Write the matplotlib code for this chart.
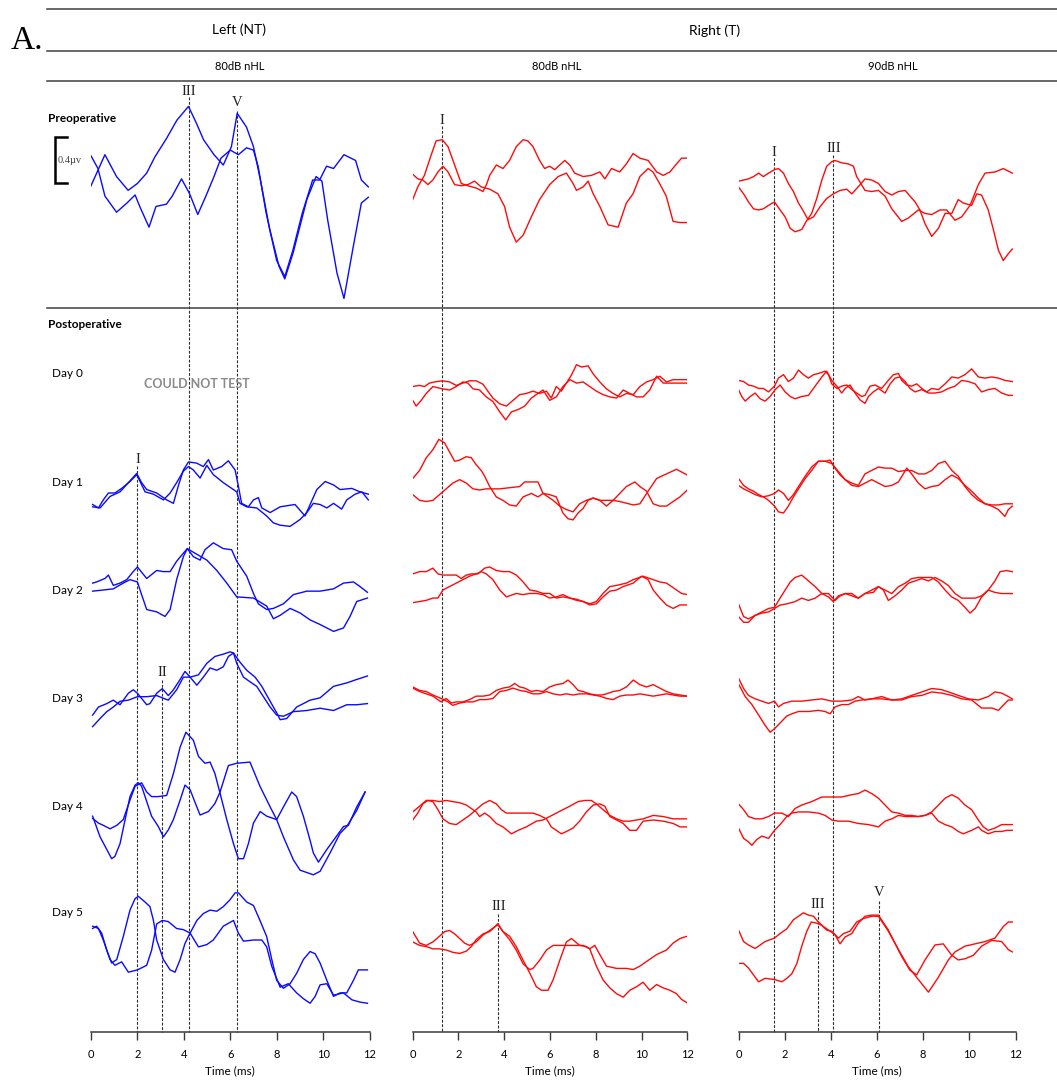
import matplotlib
matplotlib.use("Agg")
import matplotlib.pyplot as plt
from matplotlib.lines import Line2D

# ---------------- data (time in ms, amplitude in microvolts re. row baseline) -------------
# Left ear (NT), 80 dB nHL, blue
L_PRE_1_T = [0.0, 0.6, 1.1, 1.6, 2.0, 2.4, 2.75, 3.25, 3.7, 4.2, 4.55, 4.85, 5.3, 5.7, 6.05, 6.3, 6.7, 7.0, 7.3, 7.7, 8.1, 8.35, 8.7, 9.3, 9.7, 9.95, 10.2, 10.6, 10.9, 11.3, 11.65, 11.95]
L_PRE_1_V = [-0.05, 0.22, 0.03, -0.09, -0.03, 0.06, 0.20, 0.36, 0.52, 0.64, 0.49, 0.35, 0.22, 0.13, 0.29, 0.58, 0.46, 0.29, 0.00, -0.43, -0.75, -0.86, -0.64, -0.17, 0.03, -0.01, -0.35, -0.81, -1.03, -0.58, -0.20, -0.15]
L_PRE_2_T = [0.0, 0.3, 0.6, 1.1, 1.55, 1.9, 2.1, 2.5, 2.8, 3.25, 3.5, 3.9, 4.25, 4.6, 4.95, 5.3, 5.6, 6.0, 6.35, 6.7, 7.0, 7.2, 7.55, 8.0, 8.35, 8.7, 9.1, 9.55, 9.85, 10.15, 10.45, 10.9, 11.4, 11.65, 11.95]
L_PRE_2_V = [0.21, 0.10, -0.14, -0.28, -0.20, -0.13, -0.23, -0.41, -0.23, -0.21, -0.14, 0.01, -0.12, -0.30, -0.14, 0.03, 0.19, 0.26, 0.22, 0.28, 0.26, 0.12, -0.29, -0.70, -0.84, -0.61, -0.29, 0.00, 0.00, 0.12, 0.10, 0.22, 0.17, 0.00, -0.06]

L_D1_1_T = [0.07, 0.39, 0.82, 1.25, 1.61, 1.97, 2.18, 2.4, 2.83, 3.26, 3.55, 3.76, 3.98, 4.2, 4.55, 4.84, 5.06, 5.27, 5.63, 5.92, 6.21, 6.35, 6.49, 6.78, 7.0, 7.21, 7.36, 7.72, 8.15, 8.79, 9.22, 9.73, 10.09, 10.45, 10.73, 11.24, 11.59, 11.95]
L_D1_1_V = [-0.12, -0.13, -0.03, 0.01, 0.09, 0.17, 0.09, 0.03, 0.00, -0.06, -0.09, 0.06, 0.20, 0.27, 0.26, 0.23, 0.29, 0.20, 0.23, 0.28, 0.20, 0.06, -0.09, -0.12, -0.06, -0.04, -0.13, -0.17, -0.12, -0.10, -0.20, 0.03, 0.10, 0.07, 0.03, 0.04, 0.01, -0.01]
L_D1_2_T = [0.07, 0.32, 0.53, 0.75, 1.03, 1.32, 1.68, 1.97, 2.33, 2.69, 3.12, 3.41, 3.69, 3.98, 4.2, 4.41, 4.7, 4.99, 5.27, 5.7, 6.28, 6.42, 6.71, 7.14, 7.57, 7.86, 8.15, 8.58, 9.01, 9.3, 9.58, 9.87, 10.16, 10.45, 10.8, 11.02, 11.38, 11.67, 11.95]
L_D1_2_V = [-0.10, -0.13, -0.06, 0.00, 0.00, 0.04, 0.10, 0.16, 0.01, -0.01, -0.06, 0.00, 0.09, 0.19, 0.23, 0.20, 0.13, 0.24, 0.16, 0.09, 0.01, -0.09, -0.12, -0.13, -0.20, -0.26, -0.28, -0.29, -0.23, -0.17, -0.09, -0.10, -0.13, -0.09, -0.14, -0.06, -0.01, 0.01, -0.06]

L_D2_1_T = [0.07, 0.53, 0.96, 1.39, 1.68, 2.0, 2.18, 2.4, 2.83, 3.19, 3.41, 3.69, 3.98, 4.15, 4.48, 4.99, 5.42, 5.85, 6.28, 7.0, 7.57, 7.86, 8.15, 8.58, 9.01, 9.44, 9.87, 10.45, 10.88, 11.16, 11.45, 11.91]
L_D2_1_V = [-0.01, 0.00, 0.01, 0.06, 0.09, 0.07, -0.04, -0.17, -0.19, -0.23, -0.17, 0.09, 0.29, 0.36, 0.32, 0.26, 0.17, 0.06, -0.06, -0.07, -0.14, -0.25, -0.22, -0.16, -0.20, -0.26, -0.30, -0.36, -0.33, -0.23, -0.10, -0.07]
L_D2_2_T = [0.07, 0.24, 0.6, 0.75, 0.96, 1.25, 1.54, 1.82, 2.0, 2.4, 2.83, 3.12, 3.41, 3.69, 3.98, 4.15, 4.41, 4.7, 4.91, 5.27, 5.7, 6.06, 6.28, 6.71, 7.0, 7.21, 7.57, 7.86, 8.29, 8.72, 9.3, 9.87, 10.45, 10.88, 11.31, 11.59, 11.91]
L_D2_2_V = [0.06, 0.07, 0.10, 0.13, 0.04, 0.06, 0.09, 0.16, 0.20, 0.10, 0.17, 0.16, 0.16, 0.25, 0.32, 0.36, 0.29, 0.26, 0.35, 0.41, 0.36, 0.35, 0.25, 0.12, -0.03, -0.12, -0.17, -0.16, -0.12, -0.04, -0.01, -0.01, 0.01, 0.06, 0.07, 0.03, -0.02]

L_D3_1_T = [0.07, 0.32, 0.68, 0.96, 1.25, 1.61, 1.82, 2.0, 2.4, 2.54, 2.83, 3.07, 3.33, 3.55, 3.84, 4.05, 4.27, 4.56, 4.84, 5.13, 5.42, 5.7, 5.92, 6.14, 6.28, 6.57, 6.85, 7.14, 7.43, 7.72, 8.0, 8.29, 8.72, 9.3, 9.87, 10.45, 11.02, 11.45, 11.91]
L_D3_1_V = [-0.14, -0.07, -0.04, -0.01, -0.05, 0.05, 0.08, 0.05, -0.05, -0.04, 0.05, 0.09, 0.03, 0.08, 0.17, 0.24, 0.19, 0.12, 0.19, 0.27, 0.25, 0.28, 0.37, 0.40, 0.31, 0.19, 0.15, 0.11, 0.02, -0.07, -0.14, -0.15, -0.11, -0.10, -0.08, -0.10, -0.05, -0.05, -0.04]
L_D3_2_T = [0.07, 0.39, 0.68, 0.96, 1.25, 1.61, 2.0, 2.4, 2.83, 3.07, 3.33, 3.69, 3.98, 4.27, 4.63, 4.99, 5.34, 5.7, 5.99, 6.14, 6.42, 6.71, 7.07, 7.36, 7.72, 8.0, 8.15, 8.43, 8.86, 9.44, 9.87, 10.45, 11.02, 11.45, 11.91]
L_D3_2_V = [-0.24, -0.17, -0.11, -0.07, -0.02, -0.01, 0.02, 0.02, 0.03, 0.01, -0.01, 0.08, 0.19, 0.19, 0.21, 0.31, 0.37, 0.39, 0.41, 0.40, 0.32, 0.25, 0.19, 0.11, -0.02, -0.12, -0.18, -0.17, -0.07, -0.01, 0.01, 0.11, 0.14, 0.17, 0.20]

L_D4_1_T = [0.07, 0.32, 0.53, 0.82, 1.11, 1.39, 1.68, 1.9, 2.18, 2.4, 2.61, 2.9, 3.26, 3.55, 3.84, 4.09, 4.41, 4.63, 4.91, 5.13, 5.34, 5.56, 5.85, 6.14, 6.35, 6.57, 6.78, 7.0, 7.29, 7.57, 8.0, 8.29, 8.65, 8.86, 9.15, 9.44, 9.58, 9.8, 10.16, 10.45, 10.88, 11.09, 11.45, 11.81]
L_D4_1_V = [-0.03, -0.07, -0.09, -0.12, -0.09, -0.04, 0.13, 0.25, 0.28, 0.20, 0.16, 0.16, 0.17, 0.36, 0.59, 0.72, 0.65, 0.51, 0.45, 0.46, 0.36, 0.19, -0.04, -0.25, -0.38, -0.38, -0.25, -0.07, 0.03, -0.01, -0.04, 0.07, 0.20, 0.16, -0.01, -0.22, -0.33, -0.41, -0.30, -0.22, -0.10, -0.09, 0.07, 0.20]
L_D4_2_T = [0.07, 0.39, 0.68, 0.89, 1.03, 1.25, 1.47, 1.68, 1.9, 2.04, 2.18, 2.33, 2.61, 2.9, 3.12, 3.33, 3.55, 3.84, 4.05, 4.27, 4.56, 4.7, 5.06, 5.34, 5.56, 5.92, 6.28, 6.85, 7.28, 7.72, 8.0, 8.29, 8.72, 9.01, 9.58, 9.87, 10.3, 10.73, 11.02, 11.45, 11.81]
L_D4_2_V = [-0.01, -0.19, -0.30, -0.38, -0.36, -0.25, -0.04, 0.16, 0.26, 0.28, 0.25, 0.16, -0.01, -0.10, -0.19, -0.13, -0.04, 0.13, 0.26, 0.22, 0.07, 0.00, 0.03, 0.10, 0.20, 0.43, 0.45, 0.46, 0.25, 0.07, -0.04, -0.19, -0.39, -0.48, -0.52, -0.49, -0.33, -0.16, -0.10, 0.04, 0.20]

L_D5_1_T = [0.07, 0.24, 0.46, 0.68, 0.89, 1.11, 1.39, 1.68, 1.9, 2.04, 2.33, 2.54, 2.69, 2.83, 3.12, 3.41, 3.62, 3.84, 4.05, 4.27, 4.56, 4.84, 5.13, 5.42, 5.7, 5.99, 6.21, 6.35, 6.71, 7.0, 7.28, 7.57, 7.79, 8.0, 8.29, 8.58, 8.86, 9.15, 9.44, 9.66, 9.87, 10.16, 10.45, 10.73, 11.02, 11.31, 11.52, 11.91]
L_D5_1_V = [0.10, 0.12, 0.06, -0.09, -0.20, -0.17, 0.03, 0.26, 0.36, 0.38, 0.33, 0.29, 0.17, 0.00, -0.17, -0.26, -0.28, -0.17, -0.03, 0.06, 0.17, 0.23, 0.26, 0.25, 0.29, 0.35, 0.41, 0.41, 0.33, 0.30, 0.17, 0.03, -0.17, -0.35, -0.42, -0.38, -0.29, -0.17, -0.10, -0.12, -0.20, -0.35, -0.49, -0.46, -0.46, -0.35, -0.26, -0.26]
L_D5_2_T = [0.07, 0.32, 0.53, 0.82, 1.03, 1.32, 1.61, 2.0, 2.4, 2.61, 2.83, 3.07, 3.33, 3.69, 3.98, 4.27, 4.63, 4.99, 5.27, 5.7, 6.14, 6.35, 6.57, 7.0, 7.36, 7.57, 7.79, 8.15, 8.5, 8.86, 9.15, 9.44, 9.66, 9.87, 10.16, 10.45, 10.88, 11.24, 11.59, 11.91]
L_D5_2_V = [0.12, 0.10, 0.00, -0.17, -0.22, -0.19, -0.28, -0.26, -0.22, -0.09, 0.14, 0.17, 0.16, 0.10, 0.09, 0.06, -0.06, -0.04, 0.00, 0.12, 0.17, 0.06, -0.01, 0.00, 0.00, -0.06, -0.23, -0.41, -0.38, -0.46, -0.51, -0.55, -0.49, -0.39, -0.38, -0.48, -0.46, -0.52, -0.54, -0.55]

# Right ear (T), 80 dB nHL, red
M_PRE_1_T = [0.01, 0.23, 0.52, 0.82, 1.03, 1.3, 1.55, 1.84, 2.13, 2.42, 2.78, 3.08, 3.25, 3.37, 3.66, 3.95, 4.24, 4.53, 4.83, 5.04, 5.26, 5.55, 5.77, 5.99, 6.21, 6.43, 6.65, 6.87, 7.08, 7.45, 7.81, 8.18, 8.4, 8.69, 9.05, 9.34, 9.63, 9.93, 10.29, 10.66, 10.95, 11.24, 11.53, 11.75, 12.0]
M_PRE_1_V = [-0.17, -0.06, 0.04, 0.22, 0.34, 0.35, 0.29, 0.13, -0.03, -0.05, -0.07, -0.10, -0.03, 0.04, 0.13, 0.10, 0.17, 0.29, 0.35, 0.34, 0.29, 0.17, 0.10, 0.12, 0.09, 0.13, 0.17, 0.13, 0.06, 0.03, 0.04, 0.07, 0.01, 0.10, 0.07, 0.14, 0.23, 0.19, 0.17, 0.07, 0.04, 0.07, 0.14, 0.19, 0.19]
M_PRE_2_T = [0.01, 0.23, 0.45, 0.67, 0.89, 1.11, 1.33, 1.55, 1.84, 2.13, 2.42, 2.71, 3.0, 3.37, 3.73, 4.02, 4.24, 4.53, 4.83, 5.19, 5.55, 5.99, 6.36, 6.72, 7.01, 7.16, 7.45, 7.67, 7.89, 8.18, 8.54, 8.98, 9.34, 9.63, 9.93, 10.29, 10.5, 10.79, 11.08, 11.38, 11.68, 12.0]
M_PRE_2_V = [0.05, 0.01, 0.00, -0.04, 0.00, 0.07, 0.12, 0.07, -0.04, -0.05, -0.04, -0.01, -0.06, -0.08, -0.12, -0.23, -0.41, -0.54, -0.48, -0.32, -0.17, -0.04, 0.03, 0.06, -0.03, -0.09, -0.06, -0.01, -0.12, -0.23, -0.39, -0.41, -0.20, -0.12, 0.03, 0.10, 0.07, -0.03, -0.14, -0.36, -0.37, -0.37]

M_D0_1_T = [0.01, 0.31, 0.52, 0.74, 0.96, 1.3, 1.62, 1.91, 2.2, 2.49, 2.78, 3.08, 3.29, 3.51, 3.81, 4.1, 4.39, 4.68, 4.97, 5.26, 5.55, 5.85, 6.06, 6.28, 6.5, 6.72, 6.94, 7.16, 7.38, 7.67, 7.89, 8.18, 8.47, 8.76, 9.05, 9.34, 9.64, 9.93, 10.22, 10.51, 10.8, 11.09, 11.38, 11.68, 12.0]
M_D0_1_V = [0.03, 0.04, 0.03, 0.06, 0.07, 0.08, 0.07, 0.04, 0.06, 0.08, 0.08, 0.05, -0.01, -0.07, -0.12, -0.14, -0.09, -0.04, -0.03, -0.01, -0.03, -0.01, -0.07, 0.03, -0.01, 0.06, 0.13, 0.22, 0.20, 0.21, 0.14, 0.07, 0.01, -0.03, -0.06, -0.03, -0.04, 0.03, 0.07, 0.09, 0.12, 0.07, 0.09, 0.09, 0.09]
M_D0_2_T = [0.01, 0.16, 0.38, 0.6, 0.89, 1.3, 1.62, 1.91, 2.2, 2.42, 2.64, 2.93, 3.22, 3.51, 3.81, 4.07, 4.32, 4.61, 4.9, 5.19, 5.48, 5.7, 5.99, 6.28, 6.57, 6.87, 7.16, 7.45, 7.74, 8.03, 8.32, 8.62, 8.91, 9.2, 9.49, 9.78, 10.07, 10.36, 10.66, 10.95, 11.24, 11.53, 12.0]
M_D0_2_V = [-0.09, -0.14, -0.09, -0.03, 0.03, 0.01, 0.00, 0.03, 0.07, 0.06, 0.01, 0.00, -0.06, -0.10, -0.19, -0.26, -0.19, -0.17, -0.14, -0.07, -0.03, 0.00, -0.09, -0.06, 0.03, 0.09, 0.06, 0.07, 0.03, -0.01, -0.04, -0.06, -0.07, 0.00, -0.03, -0.06, -0.06, 0.00, 0.12, 0.06, 0.06, 0.06, 0.06]

M_D1_1_T = [0.01, 0.31, 0.6, 0.89, 1.15, 1.4, 1.62, 1.84, 2.06, 2.35, 2.57, 2.78, 3.0, 3.15, 3.37, 3.66, 3.95, 4.24, 4.53, 4.83, 5.19, 5.48, 5.7, 6.14, 6.43, 6.72, 7.01, 7.3, 7.59, 7.89, 8.18, 8.47, 8.76, 9.05, 9.34, 9.71, 9.93, 10.22, 10.51, 10.8, 11.09, 11.38, 11.68, 12.0]
M_D1_1_V = [0.10, 0.17, 0.28, 0.35, 0.44, 0.41, 0.33, 0.25, 0.26, 0.29, 0.28, 0.22, 0.17, 0.12, 0.03, -0.06, -0.09, -0.13, -0.14, -0.06, -0.03, -0.06, -0.03, -0.09, -0.14, -0.17, -0.19, -0.12, -0.09, -0.07, -0.09, -0.14, -0.09, -0.03, 0.03, 0.07, 0.03, -0.01, -0.12, -0.14, -0.14, -0.10, -0.06, 0.00]
M_D1_2_T = [0.01, 0.31, 0.6, 0.89, 1.18, 1.47, 1.76, 2.06, 2.35, 2.64, 2.93, 3.22, 3.51, 3.81, 4.24, 4.68, 4.9, 5.26, 5.48, 5.7, 5.99, 6.28, 6.57, 6.79, 7.01, 7.23, 7.45, 7.67, 7.89, 8.18, 8.47, 8.76, 9.05, 9.64, 9.93, 10.29, 10.66, 11.09, 11.53, 12.0]
M_D1_2_V = [-0.04, -0.09, -0.10, -0.09, -0.04, 0.01, 0.06, 0.09, 0.06, 0.01, 0.00, 0.01, 0.01, 0.01, 0.02, 0.03, 0.07, 0.07, 0.07, -0.03, -0.04, -0.06, -0.20, -0.25, -0.26, -0.20, -0.16, -0.09, -0.07, -0.09, -0.09, -0.09, -0.10, -0.13, -0.12, -0.01, 0.10, 0.14, 0.18, 0.13]

M_D2_1_T = [0.01, 0.31, 0.6, 0.89, 1.11, 1.33, 1.62, 1.91, 2.13, 2.35, 2.57, 2.86, 3.15, 3.37, 3.66, 3.95, 4.24, 4.53, 4.83, 5.12, 5.41, 5.7, 5.99, 6.28, 6.57, 6.87, 7.16, 7.45, 7.74, 8.03, 8.32, 8.62, 8.91, 9.34, 9.64, 10.07, 10.51, 10.8, 11.09, 11.53, 11.75, 12.0]
M_D2_1_V = [0.14, 0.16, 0.16, 0.19, 0.14, 0.13, 0.13, 0.13, 0.10, 0.13, 0.14, 0.14, 0.19, 0.20, 0.17, 0.16, 0.16, 0.13, 0.07, 0.00, -0.01, -0.03, -0.03, -0.07, -0.06, -0.07, -0.08, -0.10, -0.12, -0.10, -0.03, 0.03, 0.04, 0.06, 0.09, 0.12, 0.09, 0.07, 0.06, 0.00, -0.03, -0.04]
M_D2_2_T = [0.01, 0.31, 0.6, 0.89, 1.11, 1.33, 1.62, 1.91, 2.2, 2.49, 2.78, 3.0, 3.22, 3.51, 3.81, 4.1, 4.53, 4.83, 5.12, 5.41, 5.7, 5.99, 6.28, 6.57, 6.87, 7.16, 7.45, 7.74, 8.03, 8.32, 8.62, 8.91, 9.2, 9.64, 10.0, 10.29, 10.51, 10.8, 11.09, 11.38, 11.68, 12.0]
M_D2_2_V = [-0.11, -0.10, -0.09, -0.07, -0.07, 0.00, 0.03, 0.06, 0.09, 0.12, 0.14, 0.16, 0.14, 0.09, 0.00, -0.06, -0.03, -0.04, -0.03, -0.03, -0.04, -0.07, -0.06, -0.04, -0.07, -0.09, -0.10, -0.13, -0.12, -0.06, -0.01, 0.00, 0.03, 0.06, 0.12, 0.09, 0.00, -0.07, -0.13, -0.16, -0.13, -0.13]

M_D3_1_T = [0.01, 0.31, 0.6, 0.89, 1.25, 1.47, 1.69, 1.91, 2.2, 2.49, 2.78, 3.08, 3.37, 3.66, 3.95, 4.24, 4.46, 4.68, 4.9, 5.19, 5.41, 5.7, 5.99, 6.28, 6.57, 6.79, 7.01, 7.23, 7.45, 7.74, 8.03, 8.25, 8.47, 8.76, 9.05, 9.34, 9.64, 9.93, 10.22, 10.51, 10.8, 11.09, 11.38, 11.68, 12.0]
M_D3_1_V = [0.06, 0.03, 0.01, -0.01, -0.06, -0.03, -0.07, -0.06, -0.06, -0.04, -0.01, -0.01, 0.00, 0.04, 0.06, 0.07, 0.10, 0.07, 0.06, 0.03, 0.04, 0.03, 0.07, 0.09, 0.10, 0.13, 0.09, 0.04, 0.03, 0.01, 0.00, 0.00, 0.01, 0.03, 0.04, 0.07, 0.13, 0.09, 0.07, 0.09, 0.06, 0.03, 0.01, 0.00, -0.01]
M_D3_2_T = [0.01, 0.31, 0.6, 0.89, 1.25, 1.55, 1.76, 2.06, 2.35, 2.64, 2.93, 3.22, 3.51, 3.81, 4.1, 4.39, 4.68, 4.97, 5.26, 5.55, 5.85, 6.14, 6.43, 6.72, 7.01, 7.3, 7.59, 7.89, 8.18, 8.47, 8.76, 9.05, 9.34, 9.64, 9.93, 10.22, 10.51, 10.8, 11.09, 11.38, 11.68, 12.0]
M_D3_2_V = [0.07, 0.04, 0.03, 0.00, -0.03, -0.06, -0.09, -0.07, -0.06, -0.06, -0.04, -0.04, -0.03, 0.03, 0.04, 0.06, 0.04, 0.03, 0.01, 0.01, 0.03, 0.01, 0.00, 0.01, 0.00, 0.01, 0.01, 0.00, -0.01, -0.03, -0.04, -0.01, 0.00, 0.00, 0.01, 0.00, -0.01, 0.00, 0.01, 0.00, -0.01, -0.01]

M_D4_1_T = [0.01, 0.23, 0.45, 0.67, 0.89, 1.11, 1.33, 1.62, 1.91, 2.2, 2.49, 2.78, 3.08, 3.37, 3.66, 3.88, 4.1, 4.32, 4.61, 4.97, 5.26, 5.55, 5.85, 6.06, 6.28, 6.5, 6.72, 7.01, 7.3, 7.59, 7.89, 8.18, 8.4, 8.62, 8.91, 9.2, 9.49, 9.78, 10.07, 10.51, 10.95, 11.38, 11.68, 12.0]
M_D4_1_V = [0.00, 0.06, 0.14, 0.17, 0.16, 0.09, 0.01, -0.03, -0.04, 0.00, 0.04, 0.09, 0.14, 0.17, 0.14, 0.09, 0.06, 0.06, 0.06, 0.06, 0.06, 0.04, 0.01, -0.06, -0.09, -0.12, -0.10, -0.07, -0.01, 0.07, 0.13, 0.14, 0.12, 0.03, 0.00, -0.03, -0.09, -0.09, -0.01, 0.00, -0.01, -0.03, -0.06, -0.06]
M_D4_2_T = [0.01, 0.31, 0.6, 0.89, 1.18, 1.47, 1.76, 2.06, 2.35, 2.57, 2.78, 2.93, 3.15, 3.37, 3.66, 3.95, 4.32, 4.61, 4.97, 5.41, 5.7, 5.99, 6.28, 6.57, 6.87, 7.23, 7.52, 7.81, 8.03, 8.32, 8.62, 8.91, 9.2, 9.49, 9.78, 10.07, 10.51, 10.95, 11.38, 11.68, 12.0]
M_D4_2_V = [0.07, 0.12, 0.17, 0.17, 0.16, 0.17, 0.16, 0.15, 0.13, 0.10, 0.07, 0.03, 0.06, 0.03, -0.03, -0.06, -0.12, -0.09, -0.06, -0.01, 0.00, 0.03, 0.06, 0.09, 0.12, 0.16, 0.17, 0.17, 0.14, 0.09, 0.04, 0.01, -0.01, -0.01, 0.00, 0.01, 0.04, 0.03, 0.01, 0.01, 0.01]

M_D5_1_T = [0.01, 0.31, 0.6, 0.89, 1.18, 1.4, 1.62, 1.84, 2.06, 2.27, 2.49, 2.78, 3.08, 3.37, 3.73, 3.95, 4.24, 4.53, 4.83, 5.12, 5.26, 5.55, 5.85, 6.14, 6.57, 7.01, 7.45, 7.74, 7.96, 8.18, 8.47, 8.91, 9.34, 9.64, 9.93, 10.22, 10.66, 11.09, 11.38, 11.68, 12.0]
M_D5_1_V = [0.16, 0.06, 0.04, 0.07, 0.12, 0.16, 0.17, 0.14, 0.10, 0.06, 0.04, 0.07, 0.13, 0.17, 0.22, 0.16, 0.09, 0.00, -0.12, -0.17, -0.16, -0.09, 0.00, 0.04, 0.04, 0.04, 0.04, 0.01, 0.04, -0.04, -0.14, -0.16, -0.16, -0.17, -0.14, -0.10, -0.04, 0.00, 0.06, 0.10, 0.12]
M_D5_2_T = [0.01, 0.31, 0.6, 0.89, 1.18, 1.47, 1.76, 2.06, 2.35, 2.57, 2.78, 3.08, 3.37, 3.59, 3.73, 3.95, 4.24, 4.53, 4.83, 5.12, 5.41, 5.63, 5.92, 6.14, 6.43, 6.72, 6.94, 7.3, 7.59, 7.74, 8.03, 8.32, 8.62, 8.91, 9.2, 9.49, 9.78, 10.07, 10.36, 10.66, 10.95, 11.24, 11.53, 11.75, 12.0]
M_D5_2_V = [0.07, 0.04, 0.03, 0.01, 0.01, 0.00, -0.02, -0.03, -0.01, 0.03, 0.09, 0.14, 0.16, 0.20, 0.23, 0.16, 0.12, 0.03, -0.09, -0.20, -0.32, -0.35, -0.35, -0.26, -0.09, 0.07, 0.10, 0.04, 0.03, 0.01, -0.14, -0.26, -0.33, -0.38, -0.41, -0.35, -0.32, -0.28, -0.35, -0.30, -0.33, -0.35, -0.38, -0.43, -0.46]

# Right ear (T), 90 dB nHL, red
R_PRE_1_T = [0.0, 0.22, 0.43, 0.65, 0.87, 1.08, 1.3, 1.56, 1.73, 1.95, 2.16, 2.38, 2.6, 2.81, 3.0, 3.17, 3.39, 3.61, 3.82, 4.04, 4.18, 4.47, 4.76, 4.98, 5.12, 5.48, 5.77, 6.06, 6.35, 6.64, 7.07, 7.36, 7.79, 8.08, 8.37, 8.73, 9.02, 9.38, 9.67, 10.03, 10.39, 10.68, 11.11, 11.47, 11.86]
R_PRE_1_V = [0.12, 0.13, 0.14, 0.16, 0.19, 0.16, 0.19, 0.22, 0.23, 0.19, 0.10, 0.03, -0.07, -0.14, -0.21, -0.16, -0.03, 0.13, 0.25, 0.29, 0.30, 0.28, 0.27, 0.25, 0.16, 0.04, 0.03, 0.04, -0.01, -0.12, -0.23, -0.20, -0.13, -0.16, -0.17, -0.13, -0.13, -0.22, -0.19, -0.09, 0.09, 0.19, 0.20, 0.23, 0.19]
R_PRE_2_T = [0.0, 0.22, 0.43, 0.65, 0.87, 1.08, 1.3, 1.56, 1.8, 2.02, 2.24, 2.45, 2.74, 2.96, 3.25, 3.54, 3.82, 4.11, 4.4, 4.69, 4.91, 5.27, 5.48, 5.77, 6.06, 6.35, 6.64, 6.93, 7.22, 7.43, 7.65, 7.86, 8.08, 8.37, 8.66, 8.95, 9.24, 9.52, 9.74, 10.1, 10.32, 10.53, 10.82, 11.04, 11.26, 11.47, 11.69, 11.86]
R_PRE_2_V = [0.07, 0.01, -0.06, -0.12, -0.13, -0.12, -0.09, -0.06, -0.13, -0.19, -0.29, -0.32, -0.30, -0.22, -0.19, -0.10, -0.03, 0.01, 0.04, 0.05, 0.01, 0.09, 0.14, 0.13, 0.10, 0.03, 0.00, 0.03, 0.04, -0.01, -0.06, -0.13, -0.25, -0.36, -0.29, -0.16, -0.16, -0.04, -0.07, -0.09, 0.01, 0.00, -0.13, -0.30, -0.48, -0.57, -0.51, -0.47]

R_D0_1_T = [0.0, 0.22, 0.43, 0.65, 0.87, 1.08, 1.3, 1.56, 1.73, 1.95, 2.16, 2.38, 2.6, 2.81, 3.03, 3.25, 3.46, 3.75, 3.9, 4.04, 4.26, 4.47, 4.69, 4.91, 5.12, 5.34, 5.48, 5.7, 5.92, 6.2, 6.49, 6.71, 6.93, 7.07, 7.29, 7.5, 7.72, 7.94, 8.15, 8.37, 8.66, 8.95, 9.24, 9.52, 9.81, 10.1, 10.39, 10.68, 10.97, 11.26, 11.54, 11.86]
R_D0_1_V = [0.04, 0.03, 0.00, -0.01, -0.03, -0.03, -0.06, -0.01, 0.06, 0.09, 0.03, 0.06, 0.13, 0.09, 0.06, 0.09, 0.10, 0.12, 0.09, 0.01, -0.03, -0.01, 0.00, -0.04, -0.07, -0.10, -0.09, -0.01, 0.00, -0.03, 0.04, 0.09, 0.10, 0.04, 0.00, -0.01, 0.01, -0.03, -0.06, -0.03, -0.04, 0.01, 0.07, 0.06, 0.09, 0.14, 0.07, 0.06, 0.07, 0.06, 0.04, 0.03]
R_D0_2_T = [0.0, 0.14, 0.29, 0.51, 0.72, 0.94, 1.15, 1.37, 1.59, 1.8, 2.02, 2.24, 2.45, 2.74, 3.03, 3.32, 3.61, 3.82, 4.04, 4.26, 4.47, 4.62, 4.83, 5.05, 5.27, 5.48, 5.63, 5.84, 6.06, 6.35, 6.57, 6.78, 7.0, 7.22, 7.43, 7.65, 7.94, 8.23, 8.51, 8.8, 9.09, 9.38, 9.67, 9.96, 10.25, 10.53, 10.82, 11.11, 11.4, 11.69, 11.86]
R_D0_2_V = [-0.04, -0.10, -0.14, -0.10, -0.07, -0.12, -0.14, -0.10, -0.04, 0.00, -0.06, -0.10, -0.12, -0.10, -0.09, -0.01, 0.07, 0.12, 0.04, -0.01, -0.07, -0.03, 0.00, -0.07, -0.13, -0.16, -0.10, -0.06, -0.03, -0.07, 0.01, 0.06, 0.07, 0.03, -0.03, -0.06, -0.04, -0.07, -0.07, -0.06, -0.03, -0.01, 0.04, 0.03, 0.01, -0.06, -0.04, -0.03, -0.07, -0.09, -0.09]

R_D1_1_T = [0.0, 0.22, 0.43, 0.65, 0.87, 1.08, 1.3, 1.56, 1.73, 1.95, 2.16, 2.38, 2.6, 2.89, 3.17, 3.46, 3.75, 3.97, 4.18, 4.4, 4.62, 4.91, 5.19, 5.48, 5.77, 6.06, 6.35, 6.64, 6.93, 7.22, 7.5, 7.79, 8.08, 8.37, 8.66, 8.95, 9.24, 9.52, 9.81, 10.1, 10.39, 10.68, 10.97, 11.26, 11.54, 11.69, 11.86]
R_D1_1_V = [0.10, 0.04, 0.01, -0.01, -0.04, -0.06, -0.09, -0.14, -0.19, -0.20, -0.14, -0.06, 0.01, 0.10, 0.17, 0.25, 0.25, 0.26, 0.19, 0.13, 0.09, 0.06, 0.04, 0.14, 0.17, 0.20, 0.19, 0.19, 0.16, 0.17, 0.17, 0.14, 0.14, 0.17, 0.23, 0.25, 0.17, 0.12, 0.03, -0.04, -0.09, -0.12, -0.14, -0.17, -0.23, -0.17, -0.14]
R_D1_2_T = [0.0, 0.22, 0.43, 0.72, 1.01, 1.3, 1.56, 1.73, 1.95, 2.16, 2.38, 2.6, 2.89, 3.17, 3.46, 3.75, 4.04, 4.33, 4.62, 4.91, 5.19, 5.48, 5.77, 6.06, 6.35, 6.64, 6.93, 7.29, 7.5, 7.79, 8.08, 8.37, 8.66, 8.95, 9.24, 9.52, 9.81, 10.1, 10.39, 10.68, 10.97, 11.26, 11.54, 11.86]
R_D1_2_V = [0.04, 0.01, -0.01, -0.04, -0.06, -0.05, -0.03, 0.00, -0.03, -0.09, -0.04, 0.03, 0.12, 0.20, 0.25, 0.25, 0.23, 0.16, 0.09, 0.04, 0.03, 0.06, 0.09, 0.06, 0.03, 0.04, 0.07, 0.19, 0.14, 0.06, 0.01, 0.03, 0.04, 0.09, 0.13, 0.10, 0.04, -0.01, -0.07, -0.12, -0.13, -0.13, -0.12, -0.12]

R_D2_1_T = [0.0, 0.22, 0.43, 0.72, 1.01, 1.3, 1.56, 1.8, 2.02, 2.24, 2.45, 2.74, 3.03, 3.32, 3.61, 3.9, 4.11, 4.33, 4.62, 4.91, 5.19, 5.48, 5.77, 6.06, 6.35, 6.64, 6.93, 7.22, 7.5, 7.79, 8.08, 8.37, 8.66, 8.95, 9.24, 9.52, 9.81, 10.03, 10.25, 10.53, 10.82, 11.11, 11.33, 11.62, 11.86]
R_D2_1_V = [-0.06, -0.17, -0.19, -0.16, -0.13, -0.10, -0.09, -0.01, 0.06, 0.13, 0.17, 0.19, 0.14, 0.09, 0.03, 0.00, -0.04, 0.01, 0.03, 0.03, -0.01, 0.03, 0.06, 0.09, 0.06, 0.03, 0.09, 0.12, 0.16, 0.17, 0.17, 0.17, 0.13, 0.06, 0.00, -0.03, -0.09, -0.14, -0.10, 0.00, 0.06, 0.14, 0.22, 0.23, 0.22]
R_D2_2_T = [0.0, 0.22, 0.43, 0.72, 1.01, 1.3, 1.56, 1.8, 2.09, 2.45, 2.74, 3.03, 3.32, 3.61, 3.9, 4.18, 4.4, 4.62, 4.91, 5.19, 5.48, 5.84, 6.06, 6.28, 6.49, 6.78, 7.07, 7.36, 7.65, 7.94, 8.23, 8.51, 8.8, 9.09, 9.38, 9.67, 9.96, 10.25, 10.53, 10.82, 11.11, 11.4, 11.86]
R_D2_2_V = [-0.17, -0.22, -0.22, -0.16, -0.14, -0.13, -0.10, -0.07, -0.06, -0.04, -0.01, -0.03, -0.01, 0.03, 0.03, -0.03, 0.01, 0.03, 0.01, -0.01, 0.03, 0.04, 0.09, 0.06, -0.03, 0.01, 0.06, 0.12, 0.14, 0.16, 0.14, 0.17, 0.14, 0.10, 0.03, -0.01, -0.01, -0.01, 0.01, 0.06, 0.04, 0.03, 0.03]

R_D3_1_T = [0.0, 0.22, 0.43, 0.72, 1.01, 1.3, 1.56, 1.73, 1.95, 2.31, 2.74, 3.17, 3.61, 4.04, 4.47, 4.91, 5.19, 5.48, 5.77, 6.2, 6.64, 7.07, 7.5, 7.94, 8.37, 8.8, 9.24, 9.52, 9.96, 10.39, 10.82, 11.11, 11.4, 11.69, 11.86]
R_D3_1_V = [0.19, 0.10, 0.04, 0.01, -0.01, -0.03, -0.01, -0.06, -0.03, -0.01, -0.01, 0.00, 0.01, -0.01, -0.01, 0.00, 0.03, 0.00, 0.01, 0.03, 0.00, 0.01, 0.04, 0.07, 0.10, 0.09, 0.06, 0.04, 0.01, 0.00, 0.03, 0.07, 0.06, 0.03, 0.01]
R_D3_2_T = [0.0, 0.29, 0.58, 0.87, 1.15, 1.37, 1.56, 1.8, 2.09, 2.31, 2.6, 3.03, 3.46, 3.75, 3.97, 4.18, 4.47, 4.76, 5.05, 5.34, 5.77, 6.2, 6.64, 7.07, 7.5, 7.94, 8.37, 8.8, 9.24, 9.67, 10.1, 10.53, 10.97, 11.26, 11.4, 11.69, 11.86]
R_D3_2_V = [0.14, 0.03, -0.04, -0.13, -0.22, -0.28, -0.25, -0.20, -0.14, -0.12, -0.10, -0.10, -0.09, -0.10, -0.12, -0.06, -0.04, -0.04, -0.01, 0.00, 0.01, 0.01, 0.00, 0.00, 0.03, 0.04, 0.07, 0.06, 0.04, 0.01, 0.00, -0.07, -0.07, -0.09, -0.06, 0.00, 0.00]

R_D4_1_T = [0.0, 0.22, 0.43, 0.72, 1.01, 1.3, 1.56, 1.88, 2.16, 2.45, 2.74, 3.17, 3.61, 4.04, 4.47, 4.91, 5.19, 5.48, 5.77, 6.06, 6.35, 6.64, 6.93, 7.22, 7.5, 7.79, 8.08, 8.37, 8.66, 8.95, 9.24, 9.52, 9.81, 10.1, 10.39, 10.61, 10.82, 11.11, 11.4, 11.62, 11.86]
R_D4_1_V = [0.14, 0.09, 0.03, 0.01, 0.01, 0.03, 0.06, 0.06, 0.03, 0.10, 0.13, 0.16, 0.20, 0.20, 0.20, 0.22, 0.23, 0.26, 0.23, 0.19, 0.13, 0.07, 0.06, 0.04, 0.04, 0.03, 0.04, 0.07, 0.13, 0.19, 0.22, 0.19, 0.13, 0.09, 0.00, -0.06, -0.09, -0.07, -0.04, -0.04, -0.04]
R_D4_2_T = [0.0, 0.22, 0.43, 0.58, 0.79, 1.01, 1.3, 1.56, 1.8, 2.09, 2.31, 2.6, 3.03, 3.46, 3.75, 4.04, 4.33, 4.76, 5.19, 5.63, 6.06, 6.35, 6.64, 6.93, 7.22, 7.5, 7.79, 8.08, 8.37, 8.66, 8.95, 9.24, 9.52, 9.74, 10.1, 10.39, 10.53, 10.82, 11.11, 11.4, 11.62, 11.86]
R_D4_2_V = [-0.07, -0.16, -0.19, -0.22, -0.17, -0.14, -0.16, -0.09, -0.04, 0.03, 0.06, 0.07, 0.07, 0.06, 0.04, 0.00, -0.01, -0.01, -0.03, -0.04, -0.06, -0.01, 0.01, 0.04, 0.03, 0.03, 0.03, 0.04, 0.06, -0.01, -0.04, -0.06, -0.10, -0.12, -0.09, -0.06, -0.09, -0.12, -0.10, -0.10, -0.09, -0.09]

R_D5_1_T = [0.0, 0.22, 0.43, 0.72, 0.94, 1.15, 1.56, 1.8, 2.09, 2.38, 2.6, 2.81, 3.03, 3.25, 3.46, 3.68, 3.9, 4.18, 4.4, 4.62, 4.91, 5.19, 5.48, 5.77, 6.06, 6.49, 7.07, 7.43, 7.72, 8.08, 8.51, 8.87, 9.24, 9.52, 9.81, 10.17, 10.53, 10.97, 11.4, 11.69, 11.86]
R_D5_1_V = [0.13, 0.03, 0.00, -0.03, 0.00, 0.03, 0.06, 0.10, 0.14, 0.22, 0.25, 0.28, 0.26, 0.25, 0.20, 0.16, 0.13, 0.09, 0.01, 0.07, 0.10, 0.19, 0.25, 0.26, 0.26, 0.13, -0.10, -0.22, -0.26, -0.13, 0.00, 0.01, -0.09, -0.13, -0.12, -0.09, -0.01, 0.04, 0.03, -0.04, -0.06]
R_D5_2_T = [0.0, 0.22, 0.43, 0.65, 0.87, 1.15, 1.56, 1.88, 2.09, 2.31, 2.53, 2.74, 2.96, 3.15, 3.39, 3.61, 3.82, 4.04, 4.33, 4.55, 4.83, 5.12, 5.41, 5.77, 6.06, 6.49, 6.93, 7.36, 7.79, 8.23, 8.66, 9.09, 9.38, 9.81, 10.25, 10.68, 11.11, 11.47, 11.69, 11.86]
R_D5_2_V = [-0.16, -0.16, -0.20, -0.26, -0.32, -0.29, -0.30, -0.32, -0.29, -0.25, -0.16, -0.01, 0.12, 0.20, 0.19, 0.17, 0.13, 0.12, 0.06, 0.10, 0.12, 0.20, 0.23, 0.25, 0.25, 0.12, -0.04, -0.19, -0.30, -0.41, -0.28, -0.13, -0.06, -0.01, 0.01, 0.03, 0.06, 0.16, 0.20, 0.20]

# peak markers: (time ms, label)
L_MARKS = [(4.22, "III"), (6.28, "V"), (2.0, "I"), (3.07, "II")]
M_MARKS = [(1.30, "I"), (3.75, "III")]
R_MARKS = [(1.54, "I"), (4.11, "III"), (3.43, "III"), (6.09, "V")]

COLUMN_TITLES = ["80dB nHL", "80dB nHL", "90dB nHL"]
ROW_LABELS = ["Day 0", "Day 1", "Day 2", "Day 3", "Day 4", "Day 5"]
X_TICKS = [0, 2, 4, 6, 8, 10, 12]

# ---------------- layout -----------------------------------------------------
W, H = 1057, 1082
PX_PER_UV = 115.0
AX_TOP, AX_BOT = 85, 1032
BLUE, RED = "#0a0aff", "#ff0a0a"


def fx(px):
    return px / W


def fy(py):
    return 1 - py / H


def ydata(py):
    return (AX_BOT - py) / PX_PER_UV


fig = plt.figure(figsize=(W / 100, H / 100), dpi=100)
SANS = ["Lato", "DejaVu Sans"]
SERIF = ["Liberation Serif", "DejaVu Serif"]

cols = [(91, 369.5), (412.5, 687.3), (738.5, 1015.5)]
axes = []
for x0, x1 in cols:
    ax = fig.add_axes([fx(x0), fy(AX_BOT), (x1 - x0) / W, (AX_BOT - AX_TOP) / H])
    ax.set_xlim(0, 12)
    ax.set_ylim(0, ydata(AX_TOP))
    for s in ("top", "left", "right"):
        ax.spines[s].set_visible(False)
    ax.spines["bottom"].set_color("#3a3a3a")
    ax.spines["bottom"].set_linewidth(1.1)
    ax.set_yticks([])
    ax.set_xticks(X_TICKS)
    ax.tick_params(axis="x", direction="out", length=6, width=1.0, color="#3a3a3a",
                   labelsize=8, pad=6)
    for lab in ax.get_xticklabels():
        lab.set_family(SANS)
    ax.set_xlabel("Time (ms)", fontsize=8.5, family=SANS, labelpad=4)
    ax.patch.set_alpha(0)
    axes.append(ax)

# row baselines (pixel rows of the figure)
BASE = [
    {"pre": 180, "d1": 493, "d2": 590, "d3": 699, "d4": 815, "d5": 940},
    {"pre": 180, "d0": 390, "d1": 490, "d2": 590, "d3": 695, "d4": 820, "d5": 950},
    {"pre": 195, "d0": 385, "d1": 490, "d2": 597, "d3": 700, "d4": 820, "d5": 945},
]

TRACES = [
    (0, "pre", L_PRE_1_T, L_PRE_1_V), (0, "pre", L_PRE_2_T, L_PRE_2_V),
    (0, "d1", L_D1_1_T, L_D1_1_V), (0, "d1", L_D1_2_T, L_D1_2_V),
    (0, "d2", L_D2_1_T, L_D2_1_V), (0, "d2", L_D2_2_T, L_D2_2_V),
    (0, "d3", L_D3_1_T, L_D3_1_V), (0, "d3", L_D3_2_T, L_D3_2_V),
    (0, "d4", L_D4_1_T, L_D4_1_V), (0, "d4", L_D4_2_T, L_D4_2_V),
    (0, "d5", L_D5_1_T, L_D5_1_V), (0, "d5", L_D5_2_T, L_D5_2_V),
    (1, "pre", M_PRE_1_T, M_PRE_1_V), (1, "pre", M_PRE_2_T, M_PRE_2_V),
    (1, "d0", M_D0_1_T, M_D0_1_V), (1, "d0", M_D0_2_T, M_D0_2_V),
    (1, "d1", M_D1_1_T, M_D1_1_V), (1, "d1", M_D1_2_T, M_D1_2_V),
    (1, "d2", M_D2_1_T, M_D2_1_V), (1, "d2", M_D2_2_T, M_D2_2_V),
    (1, "d3", M_D3_1_T, M_D3_1_V), (1, "d3", M_D3_2_T, M_D3_2_V),
    (1, "d4", M_D4_1_T, M_D4_1_V), (1, "d4", M_D4_2_T, M_D4_2_V),
    (1, "d5", M_D5_1_T, M_D5_1_V), (1, "d5", M_D5_2_T, M_D5_2_V),
    (2, "pre", R_PRE_1_T, R_PRE_1_V), (2, "pre", R_PRE_2_T, R_PRE_2_V),
    (2, "d0", R_D0_1_T, R_D0_1_V), (2, "d0", R_D0_2_T, R_D0_2_V),
    (2, "d1", R_D1_1_T, R_D1_1_V), (2, "d1", R_D1_2_T, R_D1_2_V),
    (2, "d2", R_D2_1_T, R_D2_1_V), (2, "d2", R_D2_2_T, R_D2_2_V),
    (2, "d3", R_D3_1_T, R_D3_1_V), (2, "d3", R_D3_2_T, R_D3_2_V),
    (2, "d4", R_D4_1_T, R_D4_1_V), (2, "d4", R_D4_2_T, R_D4_2_V),
    (2, "d5", R_D5_1_T, R_D5_1_V), (2, "d5", R_D5_2_T, R_D5_2_V),
]

for ci, row, t, v in TRACES:
    n = min(len(t), len(v))
    off = ydata(BASE[ci][row])
    axes[ci].plot(t[:n], [off + a for a in v[:n]], color=BLUE if ci == 0 else RED,
                  lw=1.0, solid_joinstyle="round", zorder=3)

# dashed latency lines: (top pixel row of line, label pixel row)
MARK_POS = [
    [(97, 91), (111, 102), (466, 459), (680, 672)],
    [(126, 120), (914, 906)],
    [(158, 152), (155, 148), (912, 904), (901, 892)],
]
for ci, marks in enumerate([L_MARKS, M_MARKS, R_MARKS]):
    for (t, lab), (top, lpy) in zip(marks, MARK_POS[ci]):
        axes[ci].plot([t, t], [ydata(top), 0], color="#2a2a2a", lw=0.8,
                      ls=(0, (2.5, 1.5)), zorder=2, clip_on=False)
        axes[ci].text(t, ydata(lpy), lab, ha="center", va="center", fontsize=10.5,
                      family=SERIF, color="#222222", clip_on=False)

# scale bar 0.4 uV on left column
sb_bot = ydata(182.5)
axes[0].plot([-1.05, -1.55, -1.55, -1.05], [sb_bot + 0.4, sb_bot + 0.4, sb_bot, sb_bot],
             color="black", lw=1.8, clip_on=False, solid_joinstyle="miter")
fig.text(fx(58), fy(160.5), "0.4\u00b5v", fontsize=7.5, family=SERIF, color="#444444",
         ha="left", va="center")

# header rules
for py, x0 in [(9, 47), (51, 47), (81, 47), (308, 47)]:
    fig.add_artist(Line2D([fx(x0), 1.0], [fy(py), fy(py)], color="#404040", lw=1.1))

fig.text(fx(11), fy(41), "A.", fontsize=24, family=SERIF, ha="left", va="center")
fig.text(fx(239), fy(30), "Left (NT)", fontsize=10, family=SANS, ha="center", va="center")
fig.text(fx(715), fy(31), "Right (T)", fontsize=10, family=SANS, ha="center", va="center")
for xc, title in zip([240, 557, 893], COLUMN_TITLES):
    fig.text(fx(xc), fy(66), title, fontsize=8, family=SANS, ha="center", va="center")

fig.text(fx(48), fy(119), "Preoperative", fontsize=8.5, family=SANS, weight="bold",
         ha="left", va="center")
fig.text(fx(48), fy(325), "Postoperative", fontsize=8.5, family=SANS, weight="bold",
         ha="left", va="center")
for lab, py in zip(ROW_LABELS, [374, 482, 590, 698, 806, 912]):
    fig.text(fx(52), fy(py), lab, fontsize=8.5, family=SANS, ha="left", va="center")

fig.text(fx(197), fy(384), "COULD NOT TEST", fontsize=9, family=SANS, weight="bold",
         color="#8a8a8a", ha="center", va="center")

fig.savefig("out.png", dpi=100)
